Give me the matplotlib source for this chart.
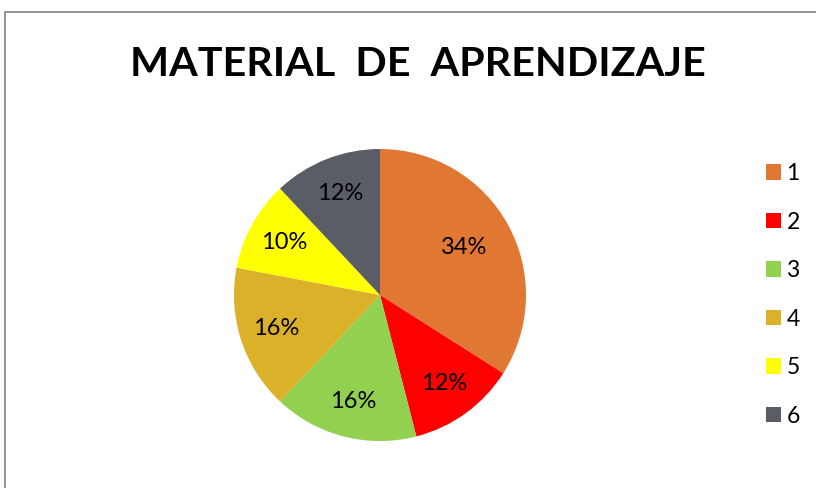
import matplotlib.pyplot as plt
from matplotlib.patches import Rectangle, Patch

# Datos
categorias = ["1", "2", "3", "4", "5", "6"]
porcentajes = [34, 12, 16, 16, 10, 12]
colores = ["#E07733", "#FF0000", "#92D050", "#DBB12A", "#FFFF00", "#5A5D66"]
titulo = "MATERIAL  DE  APRENDIZAJE"

plt.rcParams['font.family'] = ['Lato', 'DejaVu Sans']

fig = plt.figure(figsize=(8.16, 4.88), dpi=100)
W, H = 816, 488

# Marco gris del gráfico
fig.patches.append(Rectangle((5 / W, -0.1), 1.2, (H - 12) / H + 0.1, transform=fig.transFigure,
                             fill=False, edgecolor="#8c8c8c", linewidth=1.3))

# Título
fig.text(418 / W, 1 - 65 / H, titulo, ha="center", va="center",
         fontsize=29.7, fontweight="bold", color="black")

# Pastel
cx, cy, r = 380, H - 295, 146
ax = fig.add_axes([(cx - r) / W, (cy - r) / H, 2 * r / W, 2 * r / H])
wedges, textos, pcts = ax.pie(porcentajes, colors=colores, startangle=90, counterclock=False,
                              autopct="%d%%", pctdistance=0.75, radius=1,
                              textprops={"fontsize": 17, "color": "black"})
x0, y0 = pcts[0].get_position()
pcts[0].set_position((x0 * 0.88, y0 * 0.9))
ax.set_xlim(-1, 1)
ax.set_ylim(-1, 1)
ax.set_aspect("equal")
ax.axis("off")

# Leyenda
handles = [Patch(facecolor=c, edgecolor="none") for c in colores]
fig.legend(handles, categorias, loc="center left", bbox_to_anchor=(745 / W, 1 - 295 / H),
           frameon=False, fontsize=16.5, handlelength=0.66, handleheight=0.66,
           handletextpad=0.25, labelspacing=1.2)

plt.savefig("out.png", dpi=100)
